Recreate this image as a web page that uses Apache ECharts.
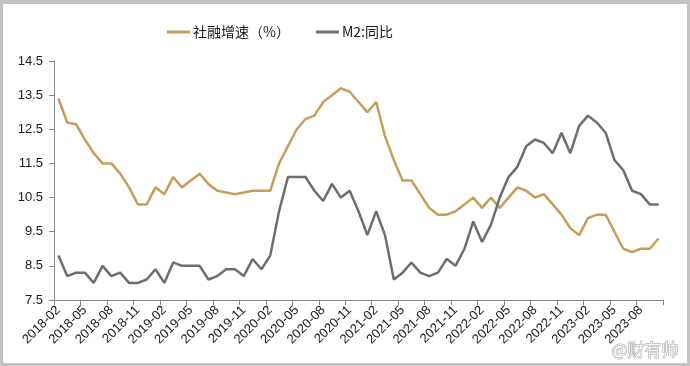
<!DOCTYPE html>
<html>
<head>
<meta charset="utf-8">
<script src="https://cdn.jsdelivr.net/npm/echarts@6/dist/echarts.min.js"></script>
<style>
  html, body { margin: 0; padding: 0; width: 690px; height: 366px; background: #c3c3c3; overflow: hidden; }
  #chart { position: absolute; left: 3px; top: 4px; width: 684px; height: 359px; background: #ffffff; }
</style>
</head>
<body>
<div id="chart"></div>
<script>
// Categories: monthly, 2018-02 .. 2023-10
const months = [];
for (let y = 2018; y <= 2023; y++) {
  for (let m = 1; m <= 12; m++) {
    if (y === 2018 && m < 2) continue;
    if (y === 2023 && m > 10) continue;
    months.push(y + '-' + (m < 10 ? '0' + m : '' + m));
  }
}

// 社融增速（%）
const tsfGrowth = [
  13.4, 12.7, 12.65, 12.2, 11.8, 11.5, 11.5, 11.2, 10.8, 10.3, 10.3, 10.8,
  10.6, 11.1, 10.8, 11.0, 11.2, 10.9, 10.7, 10.65, 10.6, 10.65, 10.7, 10.7,
  10.7, 11.5, 12.0, 12.5, 12.8, 12.9, 13.3, 13.5, 13.7, 13.6, 13.3, 13.0,
  13.3, 12.3, 11.6, 11.0, 11.0, 10.6, 10.2, 10.0, 10.0, 10.1, 10.3, 10.5,
  10.2, 10.5, 10.2, 10.5, 10.8, 10.7, 10.5, 10.6, 10.3, 10.0, 9.6, 9.4,
  9.9, 10.0, 10.0, 9.5, 9.0, 8.9, 9.0, 9.0, 9.3
];

// M2:同比
const m2Yoy = [
  8.8, 8.2, 8.3, 8.3, 8.0, 8.5, 8.2, 8.3, 8.0, 8.0, 8.1, 8.4,
  8.0, 8.6, 8.5, 8.5, 8.5, 8.1, 8.2, 8.4, 8.4, 8.2, 8.7, 8.4,
  8.8, 10.1, 11.1, 11.1, 11.1, 10.7, 10.4, 10.9, 10.5, 10.7, 10.1, 9.4,
  10.1, 9.4, 8.1, 8.3, 8.6, 8.3, 8.2, 8.3, 8.7, 8.5, 9.0, 9.8,
  9.2, 9.7, 10.5, 11.1, 11.4, 12.0, 12.2, 12.1, 11.8, 12.4, 11.8, 12.6,
  12.9, 12.7, 12.4, 11.6, 11.3, 10.7, 10.6, 10.3, 10.3
];

// Y-axis tick labels
const yTicks = [7.5, 8.5, 9.5, 10.5, 11.5, 12.5, 13.5, 14.5];

const FONT = '"Liberation Sans", Arial, "Noto Sans CJK SC", sans-serif';
const GOLD = '#C89D5A';
const GRAY = '#6E6E6E';

const chart = echarts.init(document.getElementById('chart'), null, { renderer: 'canvas' });
chart.setOption({
  animation: false,
  backgroundColor: '#ffffff',
  textStyle: { fontFamily: FONT },
  legend: {
    left: 159,
    top: 16,
    itemGap: 26,
    itemWidth: 23,
    itemHeight: 3,
    icon: 'rect',
    textStyle: { fontSize: 14, color: '#1a1a1a', fontFamily: '"Noto Sans CJK SC", "Liberation Sans", sans-serif', padding: [0, 0, 0, -2] },
    data: ['社融增速（%）', 'M2:同比']
  },
  grid: { left: 51, top: 57, right: 24, bottom: 63, containLabel: false },
  xAxis: {
    type: 'category',
    data: months,
    boundaryGap: true,
    axisLine: { show: true, lineStyle: { color: '#8a8a8a', width: 1 } },
    axisTick: { show: true, interval: 2, length: 5, alignWithLabel: false, lineStyle: { color: '#8a8a8a' } },
    axisLabel: { interval: 2, rotate: 45, fontSize: 13, color: '#1a1a1a', margin: 8, fontFamily: FONT },
    splitLine: { show: false }
  },
  yAxis: {
    type: 'value',
    min: 7.5,
    max: 14.5,
    axisLine: { show: true, lineStyle: { color: '#8a8a8a', width: 1 } },
    axisTick: { show: true, length: 5, customValues: yTicks, lineStyle: { color: '#8a8a8a' } },
    axisLabel: {
      customValues: yTicks,
      fontSize: 13,
      color: '#1a1a1a',
      margin: 11,
      fontFamily: FONT,
      formatter: function (v) { return Number(v).toFixed(1); }
    },
    splitLine: { show: false }
  },
  series: [
    {
      name: '社融增速（%）',
      type: 'line',
      data: tsfGrowth,
      symbol: 'none',
      smooth: false,
      lineStyle: { color: GOLD, width: 2.5 },
      itemStyle: { color: GOLD }
    },
    {
      name: 'M2:同比',
      type: 'line',
      data: m2Yoy,
      symbol: 'none',
      smooth: false,
      lineStyle: { color: GRAY, width: 2.5 },
      itemStyle: { color: GRAY }
    }
  ],
  graphic: [
    {
      type: 'text',
      right: 8,
      bottom: 4,
      silent: true,
      style: {
        text: '@财有帅',
        fontSize: 17,
        fontFamily: '"Noto Sans CJK SC", sans-serif',
        fill: 'rgba(255,255,255,0.85)',
        stroke: 'rgba(120,120,120,0.7)',
        lineWidth: 1
      }
    }
  ]
});
</script>
</body>
</html>
